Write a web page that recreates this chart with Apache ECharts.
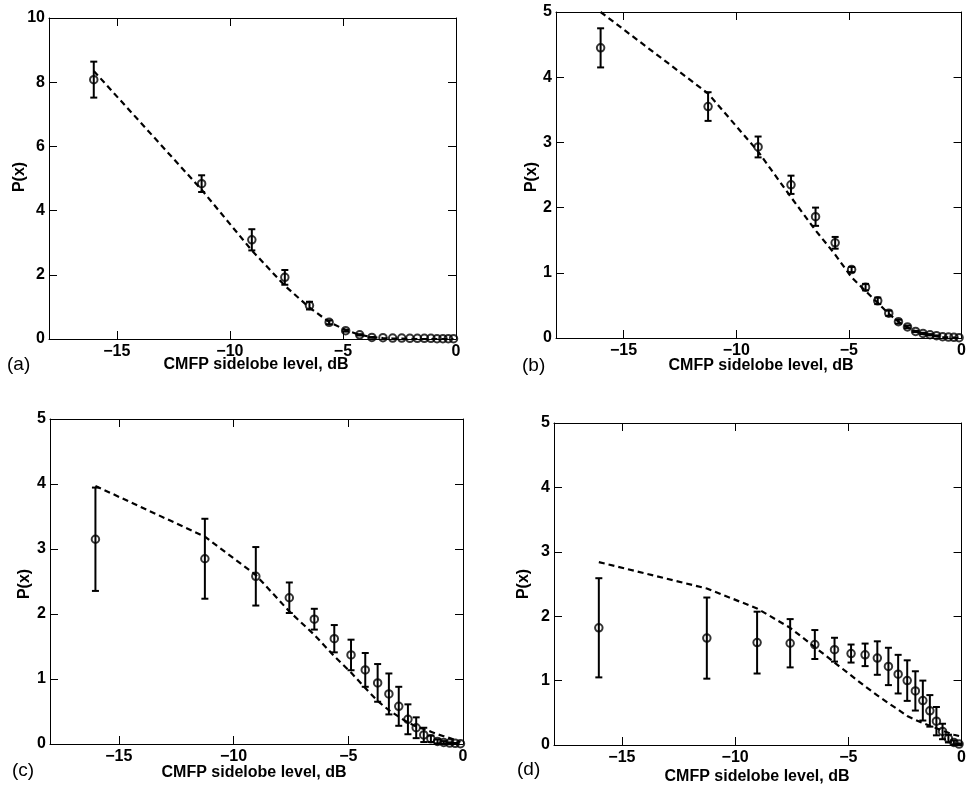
<!DOCTYPE html>
<html>
<head>
<meta charset="utf-8">
<script src="https://cdn.jsdelivr.net/npm/echarts@6/dist/echarts.min.js"></script>
<style>
html,body{margin:0;padding:0;background:#fff;}
#chart{width:969px;height:787px;}
</style>
</head>
<body>
<div id="chart"></div>
<script>
// x positions (CMFP sidelobe level, dB) shared by all four panels
const xDb = [-16.02, -11.25, -9.03, -7.57, -6.48, -5.61, -4.88, -4.26, -3.72, -3.23,
             -2.80, -2.40, -2.04, -1.71, -1.40, -1.11, -0.84, -0.58, -0.34, -0.11];
const xTicks = [-15, -10, -5, 0];

// panel (a)
const aY   = [8.08, 4.84, 3.09, 1.92, 1.04, 0.52, 0.26, 0.13, 0.05, 0.04, 0.03, 0.03, 0.02, 0.02, 0.02, 0.02, 0.01, 0.01, 0.01, 0.01];
const aErr = [0.56, 0.26, 0.33, 0.23, 0.12, 0.06, 0.03, 0.02, 0.01, 0, 0, 0, 0, 0, 0, 0, 0, 0, 0, 0];
const aFit = [8.35, 4.65, 2.76, 1.66, 0.98, 0.53, 0.28, 0.13, 0.06, 0.03, 0.015, 0.01, 0.005, 0, 0, 0, 0, 0, 0, 0];
const aTicksY = [0, 2, 4, 6, 8, 10];

// panel (b)
const bY   = [4.45, 3.55, 2.93, 2.35, 1.86, 1.46, 1.05, 0.78, 0.57, 0.38, 0.25, 0.17, 0.10, 0.07, 0.05, 0.035, 0.02, 0.015, 0.01, 0.005];
const bErr = [0.30, 0.22, 0.16, 0.14, 0.14, 0.09, 0.04, 0.05, 0.05, 0.04, 0.03, 0.02, 0.01, 0.01, 0.01, 0.005, 0, 0, 0, 0];
const bFit = [5.0, 3.75, 2.86, 2.16, 1.65, 1.28, 0.93, 0.72, 0.54, 0.37, 0.25, 0.16, 0.10, 0.06, 0.04, 0.025, 0.015, 0.01, 0.005, 0];

// panel (c)
const cY   = [3.15, 2.85, 2.58, 2.25, 1.92, 1.62, 1.37, 1.14, 0.94, 0.77, 0.58, 0.38, 0.25, 0.14, 0.08, 0.04, 0.025, 0.015, 0.01, 0.005];
const cErr = [0.795, 0.615, 0.45, 0.235, 0.16, 0.21, 0.235, 0.26, 0.29, 0.315, 0.30, 0.23, 0.16, 0.11, 0.05, 0.03, 0.02, 0.01, 0.005, 0];
const cFit = [3.97, 3.19, 2.60, 2.04, 1.68, 1.35, 1.10, 0.86, 0.66, 0.52, 0.42, 0.33, 0.27, 0.23, 0.19, 0.15, 0.12, 0.09, 0.06, 0.03];

// panel (d)
const dY   = [1.82, 1.66, 1.59, 1.58, 1.56, 1.48, 1.42, 1.40, 1.35, 1.22, 1.10, 1.00, 0.84, 0.69, 0.53, 0.37, 0.21, 0.10, 0.04, 0.015];
const dErr = [0.77, 0.63, 0.48, 0.375, 0.225, 0.185, 0.14, 0.175, 0.26, 0.29, 0.30, 0.315, 0.305, 0.31, 0.245, 0.22, 0.12, 0.06, 0.03, 0.01];
const dFit = [2.84, 2.43, 2.12, 1.82, 1.52, 1.28, 1.08, 0.91, 0.77, 0.65, 0.55, 0.45, 0.39, 0.34, 0.30, 0.26, 0.22, 0.19, 0.16, 0.14];
const bcdTicksY = [0, 1, 2, 3, 4, 5];

const panelLetters = ['(a)', '(b)', '(c)', '(d)'];
const xName = 'CMFP sidelobe level, dB';
const yName = 'P(x)';

const FONT = '"Liberation Sans", Arial, Helvetica, sans-serif';

const panels = [
  {y: aY, err: aErr, fit: aFit, yTicks: aTicksY, grid: {left: 49, top: 18, width: 407, height: 321},
   letter: [7, 365], xname: [256, 365], yname: [20, 177]},
  {y: bY, err: bErr, fit: bFit, yTicks: bcdTicksY, grid: {left: 556, top: 12, width: 412, height: 326},
   letter: [522, 366], xname: [761, 366], yname: [532, 177]},
  {y: cY, err: cErr, fit: cFit, yTicks: bcdTicksY, grid: {left: 50, top: 419, width: 413, height: 325},
   letter: [12, 771], xname: [254, 773], yname: [25, 584]},
  {y: dY, err: dErr, fit: dFit, yTicks: bcdTicksY, grid: {left: 554, top: 423, width: 409, height: 322},
   letter: [517, 770], xname: [757, 777], yname: [524, 584]}
];

const grids = [], xAxes = [], yAxes = [], series = [], graphics = [];
const minus = v => String(v).replace('-', '\u2212');

panels.forEach((p, i) => {
  grids.push(Object.assign({containLabel: false}, p.grid));
  const yMax = p.yTicks[p.yTicks.length - 1];
  const yInt = p.yTicks[1] - p.yTicks[0];
  const lineStyle = {color: '#000', width: 1};
  const tick = {show: true, inside: true, length: 8, lineStyle: {color: '#000', width: 1}, customValues: xTicks};
  xAxes.push({
    gridIndex: i, type: 'value', min: -18, max: 0, position: 'bottom',
    axisLine: {show: true, onZero: false, lineStyle},
    axisTick: tick,
    axisLabel: {show: true, customValues: xTicks, margin: 5, color: '#000', fontFamily: FONT, fontWeight: 'bold', fontSize: 16, formatter: minus},
    splitLine: {show: false}
  });
  xAxes.push({
    gridIndex: i, type: 'value', min: -18, max: 0, position: 'top',
    axisLine: {show: true, onZero: false, lineStyle},
    axisTick: tick,
    axisLabel: {show: false},
    splitLine: {show: false}
  });
  const ytick = {show: true, inside: true, length: 8, lineStyle: {color: '#000', width: 1}};
  yAxes.push({
    gridIndex: i, type: 'value', min: 0, max: yMax, interval: yInt, position: 'left',
    axisLine: {show: true, onZero: false, lineStyle},
    axisTick: ytick,
    axisLabel: {show: true, margin: 4, color: '#000', fontFamily: FONT, fontWeight: 'bold', fontSize: 16},
    splitLine: {show: false}
  });
  yAxes.push({
    gridIndex: i, type: 'value', min: 0, max: yMax, interval: yInt, position: 'right',
    axisLine: {show: true, onZero: false, lineStyle},
    axisTick: ytick,
    axisLabel: {show: false},
    splitLine: {show: false}
  });

  const xi = 2 * i, yi = 2 * i;
  series.push({
    type: 'line', xAxisIndex: xi, yAxisIndex: yi,
    data: xDb.map((x, k) => [x, p.fit[k]]),
    symbol: 'none', smooth: false, clip: true,
    lineStyle: {color: '#000', width: 2.2, type: [6, 4]},
    z: 2, silent: true
  });
  series.push({
    type: 'custom', xAxisIndex: xi, yAxisIndex: yi,
    data: xDb.map((x, k) => [x, p.y[k], p.err[k]]),
    encode: {x: 0, y: 1},
    renderItem: function (params, api) {
      const x = api.value(0), y = api.value(1), e = api.value(2);
      if (!(e > 0)) return null;
      const top = api.coord([x, y + e]);
      const bot = api.coord([x, Math.max(0, y - e)]);
      const hw = 3.5;
      const st = {stroke: '#000', lineWidth: 2};
      return {
        type: 'group',
        children: [
          {type: 'line', shape: {x1: top[0], y1: top[1], x2: bot[0], y2: bot[1]}, style: st},
          {type: 'line', shape: {x1: top[0] - hw, y1: top[1], x2: top[0] + hw, y2: top[1]}, style: st},
          {type: 'line', shape: {x1: bot[0] - hw, y1: bot[1], x2: bot[0] + hw, y2: bot[1]}, style: st}
        ]
      };
    },
    z: 3, silent: true
  });
  series.push({
    type: 'scatter', xAxisIndex: xi, yAxisIndex: yi,
    data: xDb.map((x, k) => [x, p.y[k]]),
    symbol: 'circle', symbolSize: 7.5,
    itemStyle: {color: 'rgba(0,0,0,0)', borderColor: '#000', borderWidth: 2},
    z: 4, silent: true
  });

  graphics.push({
    type: 'text', x: p.letter[0], y: p.letter[1],
    style: {text: panelLetters[i], font: '19px ' + FONT, fill: '#000', textAlign: 'left', textVerticalAlign: 'middle'}
  });
  graphics.push({
    type: 'text', x: p.xname[0], y: p.xname[1],
    style: {text: xName, font: 'bold 16px ' + FONT, fill: '#000', textAlign: 'center', textVerticalAlign: 'middle'}
  });
  graphics.push({
    type: 'text', x: p.yname[0], y: p.yname[1], rotation: Math.PI / 2,
    style: {text: yName, font: 'bold 16px ' + FONT, fill: '#000', textAlign: 'center', textVerticalAlign: 'middle'}
  });
});

const chart = echarts.init(document.getElementById('chart'), null, {renderer: 'canvas'});
chart.setOption({
  animation: false,
  backgroundColor: '#fff',
  grid: grids,
  xAxis: xAxes,
  yAxis: yAxes,
  series: series,
  graphic: graphics
});
</script>
</body>
</html>
